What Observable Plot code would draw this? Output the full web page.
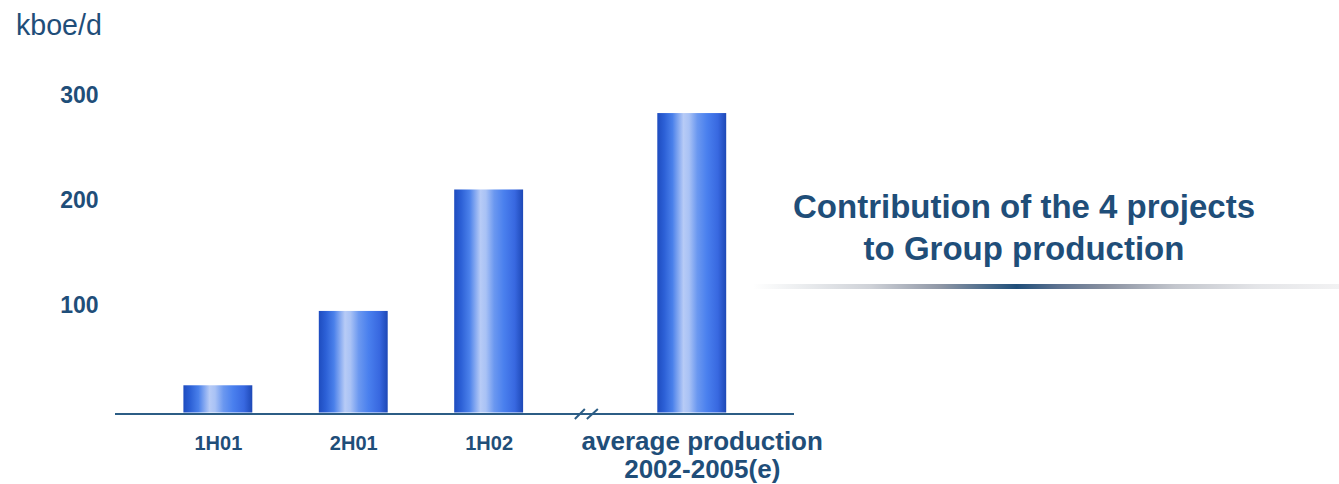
<!DOCTYPE html>
<html>
<head>
<meta charset="utf-8">
<script src="https://cdn.jsdelivr.net/npm/d3@7"></script>
<script src="https://cdn.jsdelivr.net/npm/@observablehq/plot@0.6"></script>
<style>
  html, body { margin: 0; padding: 0; background: #fff; }
  #wrap { position: relative; width: 1339px; height: 484px; font-family: "Liberation Sans", Arial, sans-serif; color: #1f4e79; overflow: hidden; }
  #unit { position: absolute; left: 16px; top: 11px; font-size: 28.6px; line-height: 28px; }
  #chart { position: absolute; left: 0; top: 0; }
  #title { position: absolute; left: 760px; top: 186px; width: 528px; text-align: center; font-size: 33px; line-height: 42px; font-weight: bold; }
  #underline { position: absolute; left: 753px; top: 284px; width: 586px; height: 5px;
    background: linear-gradient(to right, rgba(255,255,255,0) 0%, #eceef0 8%, #cfd2d8 20%, #8f97a6 32%, #1f4e79 45%, #5d7290 52%, #8890a0 60%, #c3c6cd 72%, #e4e5e8 86%, #f2f2f3 100%); }
</style>
</head>
<body>
<div id="wrap">
  <div id="unit">kboe/d</div>
  <div id="chart"></div>
  <div id="title">Contribution of the 4 projects<br>to Group production</div>
  <div id="underline"></div>
</div>
<script>
// Production periods and the matching kboe/d values
const periods = ["1H01", "2H01", "1H02", "average production\n2002-2005(e)"];
const production = [26, 97, 213, 286];
const yTicks = [100, 200, 300];

const rows = periods.map((period, i) => ({period, value: production[i]}));

// Band domain with empty slots: half a step between half-years, a wider gap before the average
const xDomain = [periods[0], "_s1", periods[1], "_s2", periods[2], "_s3", "_s4", periods[3]];

const ink = "#1f4e79";
const axisInk = "#2c5d85";

// Horizontal shading of the cylinders
const shadeStops = [
  [0, "#1e4cbf"], [0.1, "#2c60d6"], [0.22, "#4a80ea"], [0.38, "#b7cbf6"],
  [0.46, "#a9c2f5"], [0.58, "#6b98f0"], [0.72, "#4a80ee"], [0.88, "#3868e0"], [1, "#1d48b6"]
];
const defs = () => {
  const d = d3.create("svg:defs");
  const g = d.append("linearGradient").attr("id", "barShade")
    .attr("x1", 0).attr("x2", 1).attr("y1", 0).attr("y2", 0);
  for (const [o, c] of shadeStops) g.append("stop").attr("offset", o).attr("stop-color", c);
  return d.node();
};

// "//" axis-break glyph
const axisBreak = {
  draw(ctx) {
    ctx.moveTo(-11, 5); ctx.lineTo(-1, -5);
    ctx.moveTo(1, 5); ctx.lineTo(12, -5);
  }
};

const chart = Plot.plot({
  width: 840,
  height: 484,
  marginLeft: 115,
  marginRight: 46,
  marginTop: 20,
  marginBottom: 71.5,
  style: {fontFamily: "'Liberation Sans', Arial, sans-serif", color: ink, background: "transparent", overflow: "visible"},
  x: {domain: xDomain, range: [184, 725.6], padding: 0, round: false, axis: null},
  y: {domain: [0, 300], range: [412.5, 98.4], axis: null},
  marks: [
    defs,
    Plot.barY(rows, {x: "period", y: "value", fill: "url(#barShade)", insetLeft: -0.6, insetRight: -0.6}),
    Plot.ruleY([0], {stroke: axisInk, strokeWidth: 2, dy: 1}),
    Plot.dot(["_s3"], {x: d => d, frameAnchor: "bottom", dx: 29, dy: 1, symbol: axisBreak, stroke: axisInk, strokeWidth: 2, fill: "none"}),
    Plot.axisY({ticks: yTicks, tickSize: 0, tickPadding: 17, label: null, fontSize: 23, fontWeight: "bold", dy: -3, fill: ink}),
    Plot.text(rows.slice(0, 3), {x: "period", text: "period", frameAnchor: "bottom", lineAnchor: "middle", dy: 30.5, fontSize: 20, fontWeight: "bold", fill: ink}),
    Plot.text(rows.slice(3), {x: "period", text: "period", frameAnchor: "bottom", lineAnchor: "middle", dy: 41.7, dx: 10, fontSize: 26, lineHeight: 1.09, fontWeight: "bold", fill: ink})
  ]
});
document.getElementById("chart").appendChild(chart);
</script>
</body>
</html>
